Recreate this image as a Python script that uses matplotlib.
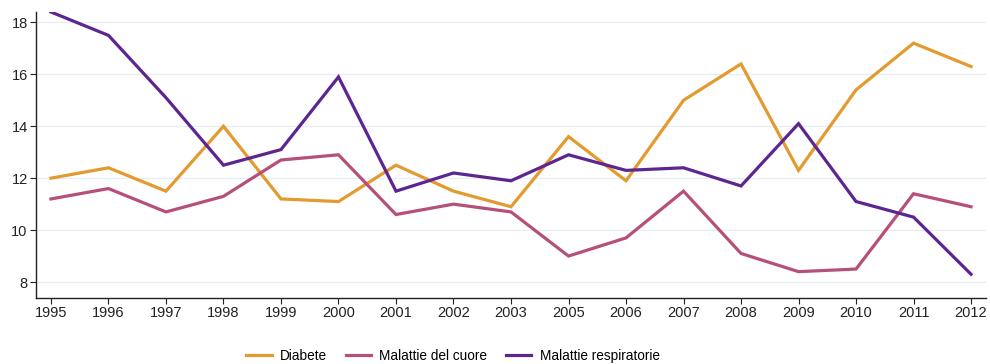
import matplotlib
matplotlib.use("Agg")
import matplotlib.pyplot as plt
from matplotlib.lines import Line2D

plt.rcParams['font.family'] = ['Liberation Sans', 'DejaVu Sans']

years = ["1995", "1996", "1997", "1998", "1999", "2000", "2001", "2002", "2003",
         "2005", "2006", "2007", "2008", "2009", "2010", "2011", "2012"]
diabete = [12.0, 12.4, 11.5, 14.0, 11.2, 11.1, 12.5, 11.5, 10.9,
           13.6, 11.9, 15.0, 16.4, 12.3, 15.4, 17.2, 16.3]
cuore = [11.2, 11.6, 10.7, 11.3, 12.7, 12.9, 10.6, 11.0, 10.7,
         9.0, 9.7, 11.5, 9.1, 8.4, 8.5, 11.4, 10.9]
respiratorie = [18.4, 17.5, 15.1, 12.5, 13.1, 15.9, 11.5, 12.2, 11.9,
                12.9, 12.3, 12.4, 11.7, 14.1, 11.1, 10.5, 8.3]
series_names = ["Diabete", "Malattie del cuore", "Malattie respiratorie"]
colors = ["#E39A2F", "#B5507A", "#5D2590"]
yticks = [8, 10, 12, 14, 16, 18]

W, H = 990, 364
fig = plt.figure(figsize=(W / 100, H / 100), dpi=100)
ax = fig.add_axes([36 / W, 1 - 298 / H, (986 - 36) / W, (298 - 12) / H])

x = list(range(len(years)))
for vals, name, c in zip([diabete, cuore, respiratorie], series_names, colors):
    ax.plot(x, vals, color=c, lw=2.3, label=name, solid_joinstyle='miter', zorder=3)

ax.set_xlim(-0.26, len(years) - 1 + 0.26)
ax.set_ylim(7.385, 18.4)
ax.set_xticks(x)
ax.set_xticklabels(years)
ax.set_yticks(yticks)
ax.set_yticklabels([str(t) for t in yticks])
ax.grid(axis='y', color='#E6EDF3', lw=0.9, zorder=0)
ax.tick_params(axis='both', labelsize=10.5, colors='#222222', length=4, width=0.8, pad=2)
for s in ['top', 'right']:
    ax.spines[s].set_visible(False)
for s in ['left', 'bottom']:
    ax.spines[s].set_color('#222222')
    ax.spines[s].set_linewidth(1.0)

handles = [Line2D([], [], color=c, lw=2.3) for c in colors]
fig.legend(handles, series_names, loc='center', bbox_to_anchor=(453 / W, 1 - 356 / H),
           ncol=3, frameon=False, fontsize=9.8, handlelength=1.85, columnspacing=1.4,
           handletextpad=0.6, borderpad=0, borderaxespad=0)

fig.savefig("out.png", dpi=100)
